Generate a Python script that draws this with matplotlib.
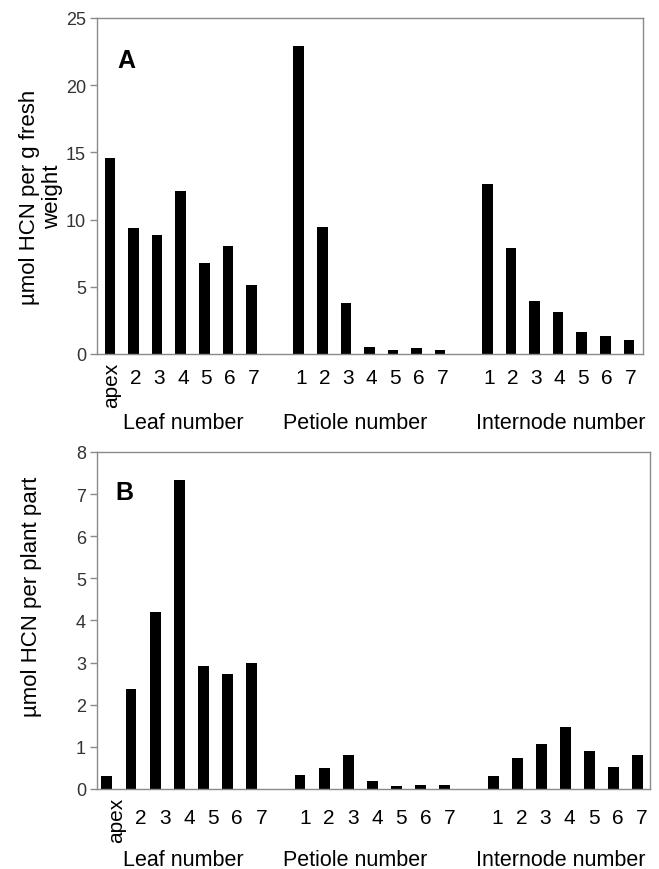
import matplotlib.pyplot as plt

plt.rcParams["font.family"] = ["Liberation Sans", "DejaVu Sans"]

leaf_labels = ["apex", "2", "3", "4", "5", "6", "7"]
num_labels = ["1", "2", "3", "4", "5", "6", "7"]
groups = ["Leaf number", "Petiole number", "Internode number"]

# panel A: umol HCN per g fresh weight
leaf_a = [14.6, 9.35, 8.83, 12.1, 6.8, 8.0, 5.13]
petiole_a = [22.9, 9.42, 3.77, 0.55, 0.27, 0.42, 0.27]
internode_a = [12.67, 7.89, 3.92, 3.15, 1.64, 1.31, 1.04]

# panel B: umol HCN per plant part
leaf_b = [0.31, 2.38, 4.21, 7.33, 2.91, 2.72, 2.99]
petiole_b = [0.33, 0.50, 0.80, 0.19, 0.06, 0.09, 0.09]
internode_b = [0.31, 0.74, 1.07, 1.48, 0.90, 0.53, 0.80]

gray = "#8a8a8a"
fig = plt.figure(figsize=(6.59, 8.70), dpi=100)


def panel(rect, series, ymax, yticks, letter, letter_xy, ylabel, xlim,
          digit_off, apex_off, group_off, label_shift, group_x, ylabel_x):
    ax = fig.add_axes(rect)
    labels = leaf_labels + [""] + num_labels + [""] + num_labels
    values = series[0] + [0] + series[1] + [0] + series[2]
    xs = list(range(len(values)))
    keep = [i for i, l in enumerate(labels) if l]
    ax.bar([xs[i] for i in keep], [values[i] for i in keep], width=0.45,
           color="black")
    ax.set_xlim(*xlim)
    ax.set_ylim(0, ymax)
    ax.set_yticks(yticks)
    ax.tick_params(axis="y", direction="out", length=5, width=1, color=gray,
                   labelsize=13, labelcolor="#333333", pad=3)
    ax.set_xticks([])
    for s in ax.spines.values():
        s.set_color(gray)
        s.set_linewidth(1)
    for i in keep:
        g = 0 if i < 7 else (1 if i < 15 else 2)
        if labels[i] == "apex":
            ax.annotate("apex", xy=(xs[i], 0), xycoords=("data", "axes fraction"),
                        xytext=(label_shift[g], apex_off), textcoords="offset points",
                        rotation=90, ha="center", va="top", fontsize=15)
        else:
            ax.annotate(labels[i], xy=(xs[i], 0), xycoords=("data", "axes fraction"),
                        xytext=(label_shift[g], digit_off), textcoords="offset points",
                        ha="center", va="center", fontsize=15)
    for name, gx in zip(groups, group_x):
        ax.annotate(name, xy=(gx, 0), xycoords=("data", "axes fraction"),
                    xytext=(0, group_off), textcoords="offset points",
                    ha="center", va="center", fontsize=15.5)
    ax.text(letter_xy[0], letter_xy[1], letter, transform=ax.transAxes,
            fontsize=18, fontweight="bold", ha="center", va="center")
    ax.set_ylabel(ylabel, fontsize=16, linespacing=1.15)
    ax.yaxis.set_label_coords(ylabel_x[0], ylabel_x[1])
    return ax


panel([0.1472, 0.5920, 0.8285, 0.3862], [leaf_a, petiole_a, internode_a],
      25, [0, 5, 10, 15, 20, 25], "A", (0.053, 0.874),
      "µmol HCN per g fresh\nweight", (-0.55, 22.6),
      -17, -5.8, -49, (1.5, 1.5, 1.0), (3.1, 10.4, 19.1), (-0.062, 0.47))

panel([0.1472, 0.0920, 0.8391, 0.3874], [leaf_b, petiole_b, internode_b],
      8, [0, 1, 2, 3, 4, 5, 6, 7, 8], "B", (0.049, 0.881),
      "µmol HCN per plant part", (-0.41, 22.5),
      -20.5, -5.8, -50.5, (7, 3.5, 3), (3.15, 10.3, 18.8), (-0.10, 0.573))

fig.savefig("out.png", dpi=100)
